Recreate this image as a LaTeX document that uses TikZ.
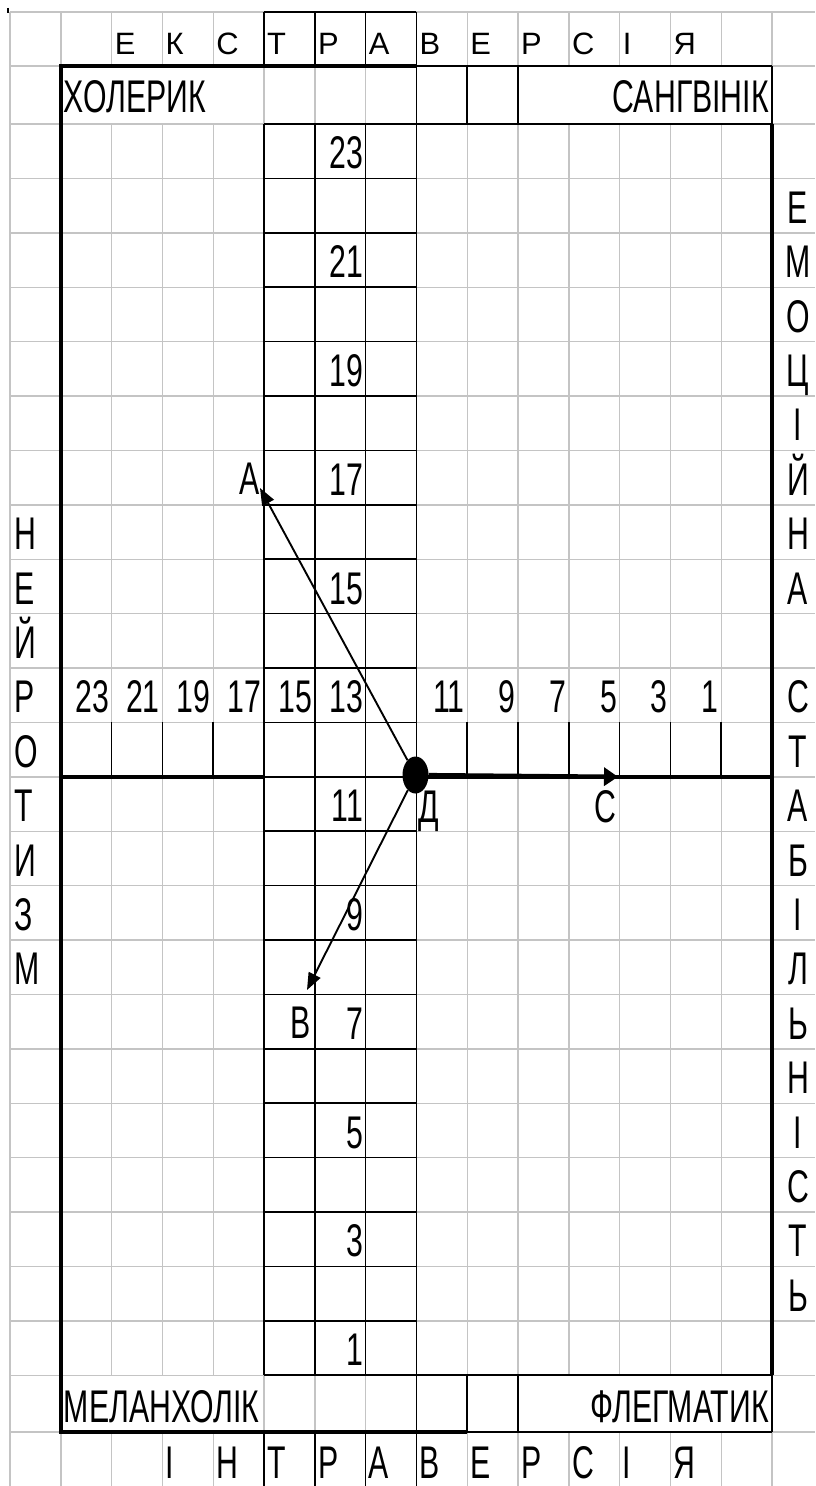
\documentclass[tikz,border=0pt]{standalone}
\usepackage{fontspec}
\setmainfont{Liberation Sans}
\newfontfamily\cf{Liberation Sans}[FakeStretch=0.66]
\usetikzlibrary{arrows.meta,shapes.geometric}
\definecolor{gridgray}{RGB}{196,196,196}
\pgfmathdeclarefunction{cx}{1}{\pgfmathparse{10+50.8*#1}}
\pgfmathdeclarefunction{ry}{1}{\pgfmathparse{#1<=1 ? (12+54*#1) : (#1<=2 ? (66+58*(#1-1)) : (#1<=25 ? (124+54.4*(#1-2)) : (1375.2+56.8*(#1-25))))}}
\begin{document}
\begin{tikzpicture}[x=1bp,y=-1bp,
  gridl/.style={draw=gridgray, line width=1.4bp},
  bl/.style={draw=black, line width=1.7bp},
  thk/.style={draw=black, line width=4.4bp, line join=miter},
  lab/.style={inner sep=0pt, font=\cf\fontsize{46}{46}\selectfont},
  lt/.style={lab, anchor=base west},
  rt/.style={lab, anchor=base east},
  ct/.style={lab, anchor=base},
  toplet/.style={inner sep=0pt, anchor=base west, font=\fontsize{31}{31}\selectfont},
  arr/.style={line width=1.9bp, -{Triangle[length=17bp,width=13bp]}},
  dot/.style={ellipse, fill=black, inner sep=0pt, minimum width=26bp, minimum height=37bp}]
\fill[white] (0,0) rectangle (815,1486);
\useasboundingbox (0,0) rectangle (815,1486);

% light grid
\foreach \j in {0,...,26} \draw[gridl] ({cx(0)},{ry(\j)}) -- (815,{ry(\j)});
\foreach \k in {0,1,5,6,7,8,9,10,15} \draw[gridl] ({cx(\k)},{ry(0)}) -- ({cx(\k)},1486);
\foreach \k in {2,3,4,11,12,13,14} {
  \draw[gridl] ({cx(\k)},{ry(0)}) -- ({cx(\k)},{ry(1)});
  \draw[gridl] ({cx(\k)},{ry(2)}) -- ({cx(\k)},{ry(25)});
  \draw[gridl] ({cx(\k)},{ry(26)}) -- ({cx(\k)},1486);
}
\draw[line width=1.2bp] (8,8) -- (8,13);

% thin black borders
\draw[bl] ({cx(5)},{ry(0)}) -- ({cx(8)},{ry(0)});
\foreach \k in {5,...,8} \draw[bl] ({cx(\k)},{ry(0)}) -- ({cx(\k)},{ry(1)});
\draw[bl] ({cx(8)},{ry(1)}) -- ({cx(15)},{ry(1)});
\draw[bl] ({cx(5)},{ry(2)}) -- ({cx(15)},{ry(2)});
\foreach \k in {8,9,10,15} \draw[bl] ({cx(\k)},{ry(1)}) -- ({cx(\k)},{ry(2)});
\foreach \k in {5,...,8} \draw[bl] ({cx(\k)},{ry(2)}) -- ({cx(\k)},{ry(25)});
\foreach \j in {3,...,24} \draw[bl] ({cx(5)},{ry(\j)}) -- ({cx(8)},{ry(\j)});
\foreach \k in {1,...,15} \draw[bl] ({cx(\k)},{ry(13)}) -- ({cx(\k)},{ry(14)});
\draw[bl] ({cx(5)},{ry(25)}) -- ({cx(15)},{ry(25)});
\foreach \k in {8,9,10,15} \draw[bl] ({cx(\k)},{ry(25)}) -- ({cx(\k)},{ry(26)});
\draw[bl] ({cx(9)},{ry(26)}) -- ({cx(15)},{ry(26)});
\foreach \k in {5,...,8} \draw[bl] ({cx(\k)},{ry(26)}) -- ({cx(\k)},1486);

% thick frame and axis
\draw[thk] ({cx(8)},{ry(1)}) -- ({cx(1)},{ry(1)}) -- ({cx(1)},{ry(26)}) -- ({cx(9)},{ry(26)});
\draw[thk] ({cx(15)},{ry(2)}) -- ({cx(15)},{ry(25)});
\draw[thk] ({cx(1)},{ry(14)}) -- ({cx(5)},{ry(14)});
\draw[thk] ({cx(8)},{ry(14)}) -- ({cx(15)},{ry(14)});

% top and bottom words
\foreach \t [count=\i from 2] in {Е,К,С,Т,Р,А,В,Е,Р,С,І,Я}
  \node[toplet] (top\i) at ({cx(\i)+3},{ry(1)-11}) {\t};
\foreach \t [count=\i from 3] in {І,Н,Т,Р,А,В,Е,Р,С,І,Я}
  \node[lt] (bot\i) at ({cx(\i)+3},1478) {\t};

% corner names
\node[lt] (chol) at ({cx(1)+3},{ry(2)-11}) {ХОЛЕРИК};
\node[rt] (sang) at ({cx(15)-3},{ry(2)-11}) {САНГВІНІК};
\node[lt] (mel) at ({cx(1)+3},{ry(26)-10}) {МЕЛАНХОЛІК};
\node[rt] (fleg) at ({cx(15)-3},{ry(26)-10}) {ФЛЕГМАТИК};

% vertical scale numbers
\foreach \j in {2,4,...,24} {
  \pgfmathtruncatemacro\v{25-\j}
  \node[rt] (cv\j) at ({cx(7)-2.5},{ry(\j+1)-9.5}) {\v};
}
% horizontal scale numbers
\foreach \k in {1,...,5} {
  \pgfmathtruncatemacro\v{25-2*\k}
  \node[rt] (hl\k) at ({cx(\k+1)-2.5},{ry(13)-9.5}) {\v};
}
\foreach \k in {8,...,13} {
  \pgfmathtruncatemacro\v{27-2*\k}
  \node[rt] (hr\k) at ({cx(\k+1)-2.5},{ry(13)-9.5}) {\v};
}

% side words
\foreach \t [count=\i from 9] in {Н,Е,Й,Р,О,Т,И,З,М}
  \node[lt] (lf\i) at ({cx(0)+4},{ry(\i+1)-9.5}) {\t};
\foreach \t [count=\i from 3] in {Е,М,О,Ц,І,Й,Н,А}
  \node[ct] (re\i) at (798,{ry(\i+1)-9.5}) {\t};
\foreach \t [count=\i from 12] in {С,Т,А,Б,І,Л,Ь,Н,І,С,Т,Ь}
  \node[ct] (rs\i) at (798,{ry(\i+1)-9.5}) {\t};

% point labels
\node[rt] (la) at ({cx(5)-4},{ry(9)-10}) {А};
\node[rt] (lb) at ({cx(6)-4},{ry(19)-10}) {В};
\node[rt] (lc) at ({cx(12)-3},{ry(15)-9}) {С};
\node[lt] (ld) at ({cx(8)+2},{ry(15)-9}) {Д};

% vectors
\node[dot] (D) at (415.5,775) {};
\coordinate (A) at (260,488);
\coordinate (B) at (307,990);
\coordinate (C) at (618,{ry(14)});
\draw[arr] (D) -- (A);
\draw[arr] (D) -- (B);
\draw[line width=4.4bp, -{Triangle[length=14bp,width=18bp]}] (D) -- (C);
\end{tikzpicture}
\end{document}
